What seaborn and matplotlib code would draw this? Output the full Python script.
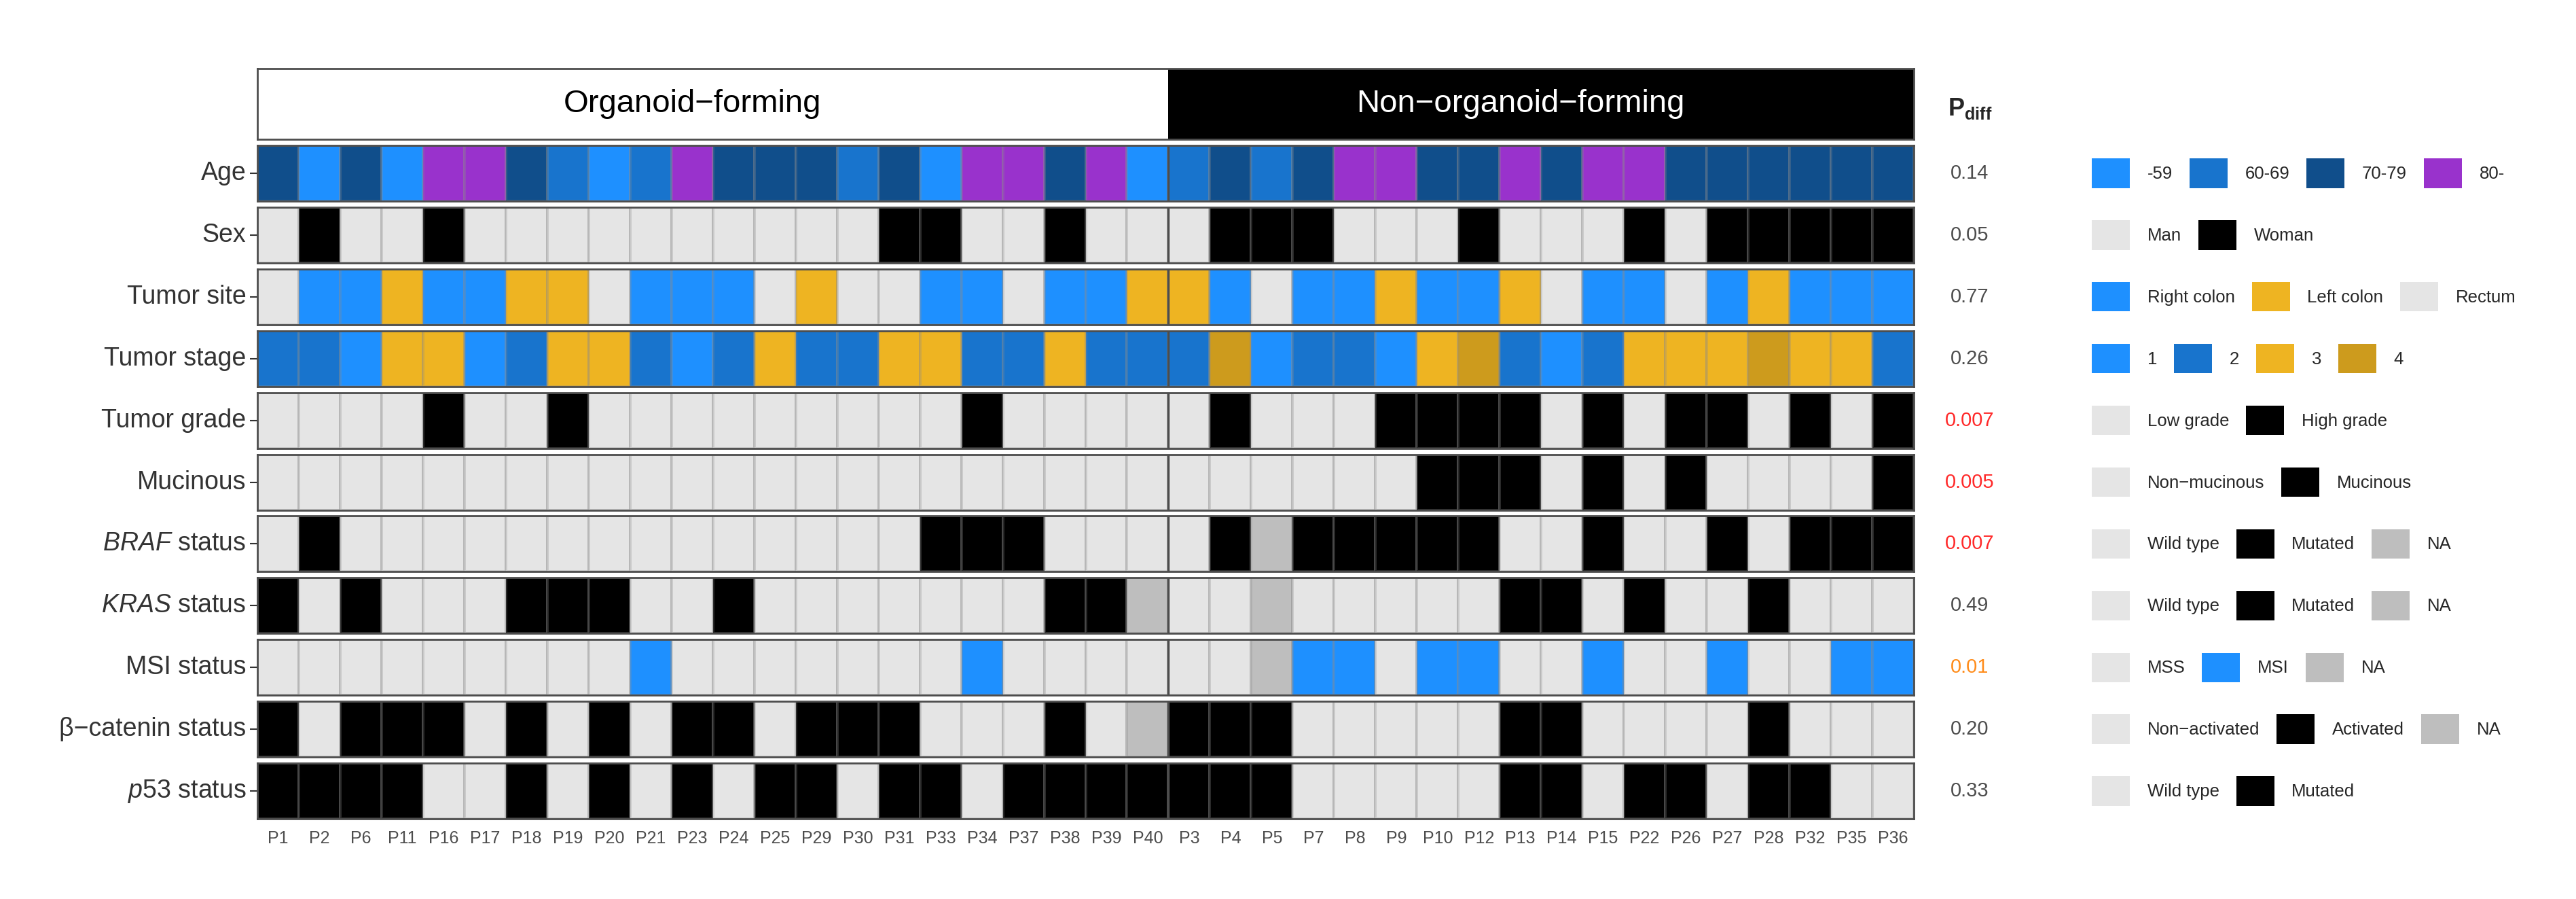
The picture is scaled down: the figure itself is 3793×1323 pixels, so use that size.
import matplotlib
matplotlib.use('Agg')
import matplotlib.pyplot as plt
import matplotlib.transforms as mtransforms
from matplotlib.colors import ListedColormap
from matplotlib.patches import Patch
import numpy as np
import seaborn as sns

# ---- data (columns: organoid-forming first, then non-organoid-forming) ----
organoid = ['P1', 'P2', 'P6', 'P11', 'P16', 'P17', 'P18', 'P19', 'P20', 'P21', 'P23',
            'P24', 'P25', 'P29', 'P30', 'P31', 'P33', 'P34', 'P37', 'P38', 'P39', 'P40']
non_organoid = ['P3', 'P4', 'P5', 'P7', 'P8', 'P9', 'P10', 'P12', 'P13', 'P14', 'P15',
                'P22', 'P26', 'P27', 'P28', 'P32', 'P35', 'P36']
patients = organoid + non_organoid

age = ['70-79', '-59', '70-79', '-59', '80-', '80-', '70-79', '60-69', '-59', '60-69', '80-',
       '70-79', '70-79', '70-79', '60-69', '70-79', '-59', '80-', '80-', '70-79', '80-', '-59',
       '60-69', '70-79', '60-69', '70-79', '80-', '80-', '70-79', '70-79', '80-', '70-79', '80-',
       '80-', '70-79', '70-79', '70-79', '70-79', '70-79', '70-79']
sex = ['Man', 'Woman', 'Man', 'Man', 'Woman', 'Man', 'Man', 'Man', 'Man', 'Man', 'Man',
       'Man', 'Man', 'Man', 'Man', 'Woman', 'Woman', 'Man', 'Man', 'Woman', 'Man', 'Man',
       'Man', 'Woman', 'Woman', 'Woman', 'Man', 'Man', 'Man', 'Woman', 'Man', 'Man', 'Man',
       'Woman', 'Man', 'Woman', 'Woman', 'Woman', 'Woman', 'Woman']
tumor_site = ['Rectum', 'Right colon', 'Right colon', 'Left colon', 'Right colon', 'Right colon',
              'Left colon', 'Left colon', 'Rectum', 'Right colon', 'Right colon',
              'Right colon', 'Rectum', 'Left colon', 'Rectum', 'Rectum', 'Right colon',
              'Right colon', 'Rectum', 'Right colon', 'Right colon', 'Left colon',
              'Left colon', 'Right colon', 'Rectum', 'Right colon', 'Right colon', 'Left colon',
              'Right colon', 'Right colon', 'Left colon', 'Rectum', 'Right colon',
              'Right colon', 'Rectum', 'Right colon', 'Left colon', 'Right colon',
              'Right colon', 'Right colon']
tumor_stage = ['2', '2', '1', '3', '3', '1', '2', '3', '3', '2', '1',
               '2', '3', '2', '2', '3', '3', '2', '2', '3', '2', '2',
               '2', '4', '1', '2', '2', '1', '3', '4', '2', '1', '2',
               '3', '3', '3', '4', '3', '3', '2']
tumor_grade = ['Low grade'] * 4 + ['High grade', 'Low grade', 'Low grade', 'High grade'] + ['Low grade'] * 9 + \
              ['High grade'] + ['Low grade'] * 4 + \
              ['Low grade', 'High grade', 'Low grade', 'Low grade', 'Low grade', 'High grade', 'High grade',
               'High grade', 'High grade', 'Low grade', 'High grade', 'Low grade', 'High grade',
               'High grade', 'Low grade', 'High grade', 'Low grade', 'High grade']
mucinous = ['Non−mucinous'] * 22 + \
           ['Non−mucinous'] * 6 + ['Mucinous', 'Mucinous', 'Mucinous', 'Non−mucinous', 'Mucinous',
                                   'Non−mucinous', 'Mucinous', 'Non−mucinous', 'Non−mucinous',
                                   'Non−mucinous', 'Non−mucinous', 'Mucinous']
braf = ['Wild type', 'Mutated'] + ['Wild type'] * 14 + ['Mutated', 'Mutated', 'Mutated'] + ['Wild type'] * 3 + \
       ['Wild type', 'Mutated', 'NA', 'Mutated', 'Mutated', 'Mutated', 'Mutated', 'Mutated', 'Wild type',
        'Wild type', 'Mutated', 'Wild type', 'Wild type', 'Mutated', 'Wild type', 'Mutated', 'Mutated',
        'Mutated']
kras = ['Mutated', 'Wild type', 'Mutated', 'Wild type', 'Wild type', 'Wild type', 'Mutated', 'Mutated',
        'Mutated', 'Wild type', 'Wild type', 'Mutated'] + ['Wild type'] * 7 + ['Mutated', 'Mutated', 'NA'] + \
       ['Wild type', 'Wild type', 'NA'] + ['Wild type'] * 5 + ['Mutated', 'Mutated', 'Wild type', 'Mutated',
                                                             'Wild type', 'Wild type', 'Mutated',
                                                             'Wild type', 'Wild type', 'Wild type']
msi = ['MSS'] * 9 + ['MSI'] + ['MSS'] * 7 + ['MSI'] + ['MSS'] * 4 + \
      ['MSS', 'MSS', 'NA', 'MSI', 'MSI', 'MSS', 'MSI', 'MSI', 'MSS', 'MSS', 'MSI',
       'MSS', 'MSS', 'MSI', 'MSS', 'MSS', 'MSI', 'MSI']
b_catenin = ['Activated', 'Non−activated', 'Activated', 'Activated', 'Activated', 'Non−activated',
             'Activated', 'Non−activated', 'Activated', 'Non−activated', 'Activated',
             'Activated', 'Non−activated', 'Activated', 'Activated', 'Activated', 'Non−activated',
             'Non−activated', 'Non−activated', 'Activated', 'Non−activated', 'NA',
             'Activated', 'Activated', 'Activated'] + ['Non−activated'] * 5 + \
            ['Activated', 'Activated'] + ['Non−activated'] * 4 + ['Activated'] + ['Non−activated'] * 3
p53 = ['Mutated', 'Mutated', 'Mutated', 'Mutated', 'Wild type', 'Wild type', 'Mutated', 'Wild type',
       'Mutated', 'Wild type', 'Mutated', 'Wild type', 'Mutated', 'Mutated', 'Wild type', 'Mutated',
       'Mutated', 'Wild type', 'Mutated', 'Mutated', 'Mutated', 'Mutated',
       'Mutated', 'Mutated', 'Mutated'] + ['Wild type'] * 5 + \
      ['Mutated', 'Mutated', 'Wild type', 'Mutated', 'Mutated', 'Wild type', 'Mutated', 'Mutated',
       'Wild type', 'Wild type']

p_diff = ['0.14', '0.05', '0.77', '0.26', '0.007', '0.005', '0.007', '0.49', '0.01', '0.20', '0.33']

# ---- colours ----
BRIGHT, MEDIUM, NAVY, PURPLE = '#1E90FF', '#1874CD', '#104E8B', '#9932CC'
LIGHT, BLACK, NA_GREY = '#E5E5E5', '#000000', '#BEBEBE'
GOLD, DARKGOLD = '#EEB422', '#CD9B1D'

rows = [
    ('Age', age, ['-59', '60-69', '70-79', '80-'], [BRIGHT, MEDIUM, NAVY, PURPLE]),
    ('Sex', sex, ['Man', 'Woman'], [LIGHT, BLACK]),
    ('Tumor site', tumor_site, ['Right colon', 'Left colon', 'Rectum'], [BRIGHT, GOLD, LIGHT]),
    ('Tumor stage', tumor_stage, ['1', '2', '3', '4'], [BRIGHT, MEDIUM, GOLD, DARKGOLD]),
    ('Tumor grade', tumor_grade, ['Low grade', 'High grade'], [LIGHT, BLACK]),
    ('Mucinous', mucinous, ['Non−mucinous', 'Mucinous'], [LIGHT, BLACK]),
    (r'$\mathit{BRAF}$ status', braf, ['Wild type', 'Mutated', 'NA'], [LIGHT, BLACK, NA_GREY]),
    (r'$\mathit{KRAS}$ status', kras, ['Wild type', 'Mutated', 'NA'], [LIGHT, BLACK, NA_GREY]),
    ('MSI status', msi, ['MSS', 'MSI', 'NA'], [LIGHT, BRIGHT, NA_GREY]),
    ('β−catenin status', b_catenin, ['Non−activated', 'Activated', 'NA'], [LIGHT, BLACK, NA_GREY]),
    (r'$\mathit{p53}$ status', p53, ['Wild type', 'Mutated'], [LIGHT, BLACK]),
]

sns.set_theme(style='white')
plt.rcParams['font.family'] = ['Liberation Sans', 'DejaVu Sans']
plt.rcParams['mathtext.fontset'] = 'custom'
plt.rcParams['mathtext.rm'] = 'Liberation Sans'
plt.rcParams['mathtext.it'] = 'Liberation Sans:italic'
plt.rcParams['mathtext.bf'] = 'Liberation Sans:bold'

W, H = 3793, 1323
fig = plt.figure(figsize=(W / 100, H / 100), dpi=100)
BORDER = '#4D4D4D'
X0, X1 = 379, 2818


def px_axes(x0, y0, x1, y1):
    return fig.add_axes([x0 / W, 1 - y1 / H, (x1 - x0) / W, (y1 - y0) / H])


def frame(ax):
    for sp in ax.spines.values():
        sp.set_visible(True)
        sp.set_color(BORDER)
        sp.set_linewidth(2)


# header band
n_org, n_non = len(organoid), len(non_organoid)
ax_h = px_axes(X0, 101, X1, 205)
groups = np.array([[0] * n_org + [1] * n_non])
sns.heatmap(groups, cmap=ListedColormap(['white', 'black']), vmin=0, vmax=1, cbar=False,
            xticklabels=False, yticklabels=False, ax=ax_h)
frame(ax_h)
ax_h.text(n_org / 2 - 0.5, 0.5, 'Organoid−forming', ha='center', va='center', fontsize=34, color='black')
ax_h.text(n_org + n_non / 2 - 0.5, 0.5, 'Non−organoid−forming', ha='center', va='center',
          fontsize=34, color='white')
fig.text(2868 / W, 1 - 160 / H, r'$\mathbf{P}_{\mathbf{diff}}$', fontsize=26, ha='left', va='center')

# one strip per variable
for i, (label, values, cats, colors) in enumerate(rows):
    y0 = 214 + i * 90.9
    ax = px_axes(X0, y0, X1, y0 + 82)
    codes = np.array([[cats.index(v) for v in values]])
    last = i == len(rows) - 1
    sns.heatmap(codes, cmap=ListedColormap(colors), vmin=-0.5, vmax=len(colors) - 0.5, cbar=False,
                linewidths=1.5, linecolor=(0.55, 0.55, 0.55, 0.3),
                xticklabels=patients if last else False, yticklabels=[label], ax=ax)
    ax.axvline(n_org, color=BORDER, lw=2.5)
    frame(ax)
    ax.tick_params(axis='y', left=True, length=8, width=1.5, color='#333333', pad=4,
                   labelsize=27, labelcolor='#333333', rotation=0)
    if last:
        ax.tick_params(axis='x', bottom=False, length=0, pad=12, labelsize=18,
                       labelcolor='#4D4D4D', rotation=0)

    trans = mtransforms.blended_transform_factory(fig.transFigure, ax.transAxes)
    p = float(p_diff[i])
    pcol = '#FF2A2A' if p < 0.01 else ('#FF8C1A' if p < 0.05 else '#4D4D4D')
    ax.text(2900 / W, 0.5, p_diff[i], transform=trans, ha='center', va='center', fontsize=21, color=pcol)

    handles = [Patch(facecolor=c, edgecolor='none') for c in colors]
    ax.legend(handles, cats, loc='center left', bbox_to_anchor=(3080 / W, 0.5), bbox_transform=trans,
              ncol=len(cats), frameon=False, fontsize=18.5, handlelength=2.18, handleheight=2.22,
              handletextpad=1.0, columnspacing=0.97, borderpad=0, borderaxespad=0)

fig.savefig('out.png', dpi=100)
